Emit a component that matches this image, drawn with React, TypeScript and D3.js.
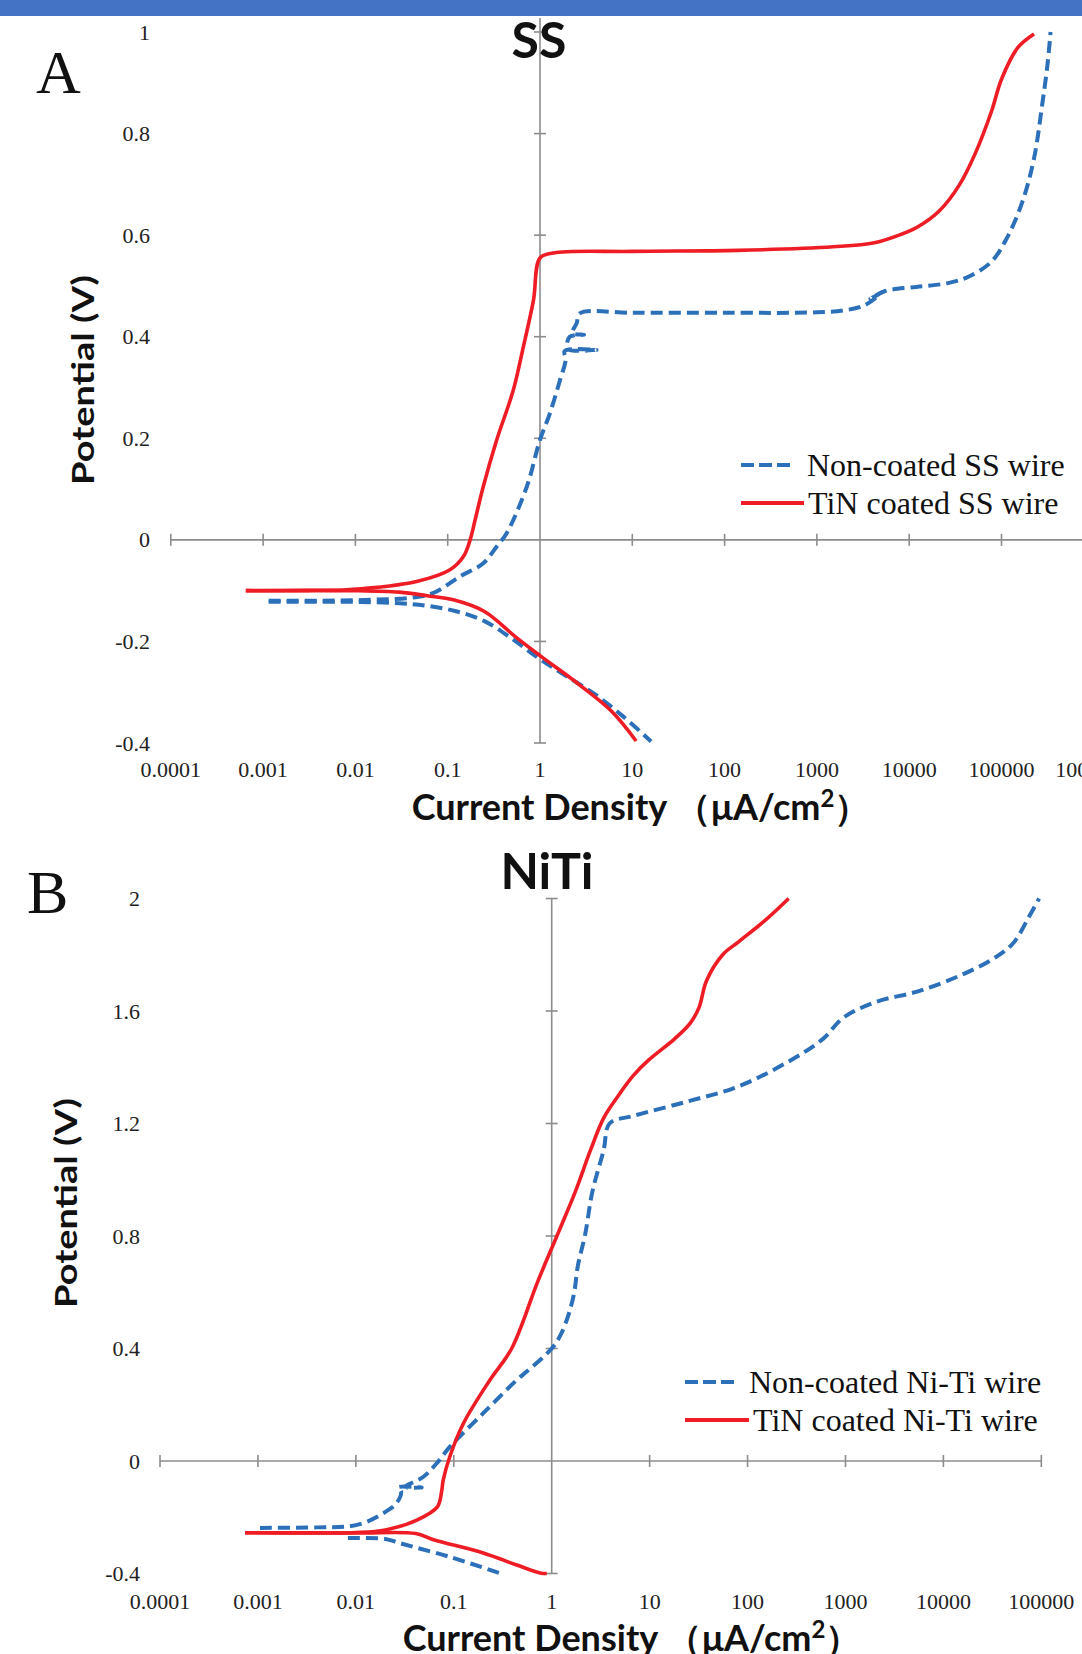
import React from "react";
import * as d3 from "d3";

// ---------- Data ----------
// Panel A (SS): [current density µA/cm², potential V]
const ssNonCoatedAnodic: [number, number][] = [
  [0.00115, -0.12], [0.004, -0.12], [0.015, -0.118], [0.04, -0.114], [0.069, -0.105],
  [0.136, -0.072], [0.243, -0.046], [0.34, -0.013], [0.435, 0.013], [0.72, 0.105],
  [1.0, 0.197], [1.28, 0.249], [1.65, 0.315], [1.9, 0.355], [1.85, 0.372], [4.1, 0.374],
  [2.0, 0.376], [2.1, 0.4], [3.0, 0.404], [2.25, 0.407], [2.5, 0.427], [2.7, 0.446],
  [10, 0.447], [100, 0.447], [1000, 0.448], [2000, 0.452], [3300, 0.462], [4900, 0.485],
  [3800, 0.475], [5500, 0.49], [12000, 0.498], [27000, 0.506], [45000, 0.519],
  [78000, 0.548], [115000, 0.595], [170000, 0.668], [225000, 0.751], [275000, 0.855],
  [316000, 0.938], [340000, 1.0],
];
const ssNonCoatedCathodic: [number, number][] = [
  [0.00115, -0.122], [0.01, -0.122], [0.03, -0.125], [0.06, -0.13], [0.12, -0.14],
  [0.25, -0.16], [0.5, -0.195], [1, -0.235], [2, -0.27], [4, -0.305], [8, -0.348], [16, -0.397],
];
const ssTinAnodic: [number, number][] = [
  [0.00065, -0.1], [0.003, -0.1], [0.0087, -0.098], [0.046, -0.082], [0.106, -0.059],
  [0.148, -0.033], [0.175, 0], [0.198, 0.039], [0.243, 0.105], [0.34, 0.197],
  [0.514, 0.295], [0.66, 0.38], [0.85, 0.472], [1.0, 0.555], [1.4, 0.565],
  [10, 0.568], [140, 0.57], [1500, 0.577], [4200, 0.585], [8300, 0.602], [12300, 0.616],
  [21000, 0.647], [35000, 0.699], [52000, 0.761], [78000, 0.844], [100000, 0.907],
  [150000, 0.969], [225000, 0.996],
];
const ssTinCathodic: [number, number][] = [
  [0.00065, -0.1], [0.01, -0.1], [0.03, -0.103], [0.06, -0.11], [0.115, -0.118],
  [0.25, -0.141], [0.56, -0.193], [1, -0.228], [2.7, -0.286], [6, -0.338], [11, -0.396],
];

// Panel B (NiTi)
const nitiNonCoatedAnodic: [number, number][] = [
  [0.00105, -0.238], [0.004, -0.236], [0.0087, -0.232], [0.013, -0.216], [0.019, -0.186],
  [0.026, -0.15], [0.029, -0.11], [0.027, -0.094], [0.047, -0.094], [0.032, -0.092],
  [0.049, -0.056], [0.067, -0.008], [0.091, 0.05], [0.2, 0.17], [0.44, 0.288],
  [0.56, 0.319], [1.0, 0.4], [1.24, 0.45], [1.5, 0.525], [1.7, 0.6], [1.85, 0.694],
  [2.2, 0.807], [2.6, 0.957], [3.4, 1.107], [3.9, 1.2], [6.8, 1.227], [23, 1.276],
  [81, 1.332], [280, 1.426], [590, 1.501], [950, 1.576], [2040, 1.632], [5500, 1.67],
  [14800, 1.726], [31000, 1.782], [51000, 1.839], [74000, 1.932], [95000, 2.0],
];
const nitiNonCoatedCathodic: [number, number][] = [
  [0.0083, -0.274], [0.02, -0.277], [0.028, -0.292], [0.091, -0.341], [0.3, -0.4],
];
const nitiTinAnodic: [number, number][] = [
  [0.00074, -0.255], [0.01, -0.254], [0.02, -0.245], [0.042, -0.21], [0.068, -0.163],
  [0.075, -0.11], [0.078, -0.068], [0.091, 0.015], [0.126, 0.135], [0.234, 0.288],
  [0.39, 0.4], [0.72, 0.638], [1.13, 0.8], [1.74, 0.957], [2.5, 1.107], [3.4, 1.22],
  [4.7, 1.295], [6.8, 1.37], [9.8, 1.426], [18, 1.501], [26, 1.557], [32, 1.613],
  [38, 1.707], [56, 1.801], [81, 1.846], [150, 1.921], [263, 2.0],
];
const nitiTinCathodic: [number, number][] = [
  [0.00074, -0.255], [0.01, -0.256], [0.041, -0.258], [0.062, -0.28], [0.2, -0.327],
  [0.44, -0.37], [0.76, -0.398], [0.89, -0.4],
];

const xTickValuesA = [0.0001, 0.001, 0.01, 0.1, 1, 10, 100, 1000, 10000, 100000, 1000000];
const xTickLabelsA = ["0.0001", "0.001", "0.01", "0.1", "1", "10", "100", "1000", "10000", "100000", "1000000"];
const yTickValuesA = [-0.4, -0.2, 0, 0.2, 0.4, 0.6, 0.8, 1];
const yTickLabelsA = ["-0.4", "-0.2", "0", "0.2", "0.4", "0.6", "0.8", "1"];
const xTickValuesB = [0.0001, 0.001, 0.01, 0.1, 1, 10, 100, 1000, 10000, 100000];
const xTickLabelsB = ["0.0001", "0.001", "0.01", "0.1", "1", "10", "100", "1000", "10000", "100000"];
const yTickValuesB = [-0.4, 0, 0.4, 0.8, 1.2, 1.6, 2];
const yTickLabelsB = ["-0.4", "0", "0.4", "0.8", "1.2", "1.6", "2"];

const legendA = ["Non-coated SS wire", "TiN coated SS wire"];
const legendB = ["Non-coated Ni-Ti wire", "TiN coated Ni-Ti wire"];

const BLUE = "#2b70b8";
const RED = "#ee1c24";
const AXIS = "#8c8c8c";
const SANS = "Lato, 'Open Sans', sans-serif";
const SERIF = "'Liberation Serif', 'DejaVu Serif', serif";

type PanelProps = {
  letter: string; letterX: number; letterY: number;
  title: string; titleX: number; titleY: number;
  xDomain: [number, number]; xRange: [number, number];
  yDomain: [number, number]; yRange: [number, number];
  xTicks: number[]; xLabels: string[]; yTicks: number[]; yLabels: string[];
  axisStart: number; axisEnd: number; yAxisTop: number;
  xLabelY: number; yLabelX: number;
  xTitleX: number; xTitleY: number; yTitleX: number; yTitleY: number;
  blue: [number, number][][]; red: [number, number][][];
  legend: string[]; legX: number; legY: number; legBlueLen: number; legRedLen: number;
};

function Panel(p: PanelProps) {
  const x = d3.scaleLog().domain(p.xDomain).range(p.xRange);
  const y = d3.scaleLinear().domain(p.yDomain).range(p.yRange);
  const line = d3.line<[number, number]>().x((d) => x(d[0])).y((d) => y(d[1])).curve(d3.curveCatmullRom.alpha(0.5));
  const x0 = x(1);
  const y0 = y(0);
  return (
    <g>
      <text x={p.letterX} y={p.letterY} fontFamily={SERIF} fontSize={62} fill="#111">{p.letter}</text>
      {/* x axis */}
      <line x1={p.axisStart} x2={p.axisEnd} y1={y0} y2={y0} stroke={AXIS} strokeWidth={1.6} />
      {p.xTicks.map((t, i) => (
        <g key={"xt" + i}>
          {t !== 1 && <line x1={x(t)} x2={x(t)} y1={y0 - 6} y2={y0 + 6} stroke={AXIS} strokeWidth={1.6} />}
          <text x={x(t)} y={p.xLabelY} textAnchor="middle" fontFamily={SERIF} fontSize={22} fill="#222">{p.xLabels[i]}</text>
        </g>
      ))}
      {/* y axis */}
      <line x1={x0} x2={x0} y1={p.yAxisTop} y2={y(p.yDomain[0])} stroke={AXIS} strokeWidth={1.6} />
      {p.yTicks.map((t, i) => (
        <g key={"yt" + i}>
          {t !== 0 && <line x1={x0 - 6} x2={x0 + 6} y1={y(t)} y2={y(t)} stroke={AXIS} strokeWidth={1.6} />}
          <text x={p.yLabelX} y={y(t)} textAnchor="end" dominantBaseline="central" fontFamily={SERIF} fontSize={22} fill="#222">{p.yLabels[i]}</text>
        </g>
      ))}
      <text x={p.titleX} y={p.titleY} textAnchor="middle" fontFamily={SANS} fontWeight={700} fontSize={50} fill="#111">{p.title}</text>
      <text x={p.xTitleX} y={p.xTitleY} textAnchor="middle" fontFamily={SANS} fontWeight={700} fontSize={36} fill="#111">
        Current Density （μA/cm<tspan dy={-13} fontSize={24}>2</tspan><tspan dy={13}>）</tspan>
      </text>
      <text transform={`translate(${p.yTitleX},${p.yTitleY}) rotate(-90) scale(1,0.82)`} textAnchor="middle" dominantBaseline="central" fontFamily={SANS} fontWeight={700} fontSize={38} fill="#111">Potential (V)</text>
      {/* curves */}
      {p.blue.map((s, i) => (
        <path key={"b" + i} d={line(s) || ""} fill="none" stroke={BLUE} strokeWidth={4} strokeDasharray="12,6" />
      ))}
      {p.red.map((s, i) => (
        <path key={"r" + i} d={line(s) || ""} fill="none" stroke={RED} strokeWidth={3.6} />
      ))}
      {/* legend */}
      <line x1={p.legX} x2={p.legX + p.legBlueLen} y1={p.legY} y2={p.legY} stroke={BLUE} strokeWidth={4} strokeDasharray="13,5" />
      <text x={p.legX + p.legBlueLen + 14} y={p.legY + 11} fontFamily={SERIF} fontSize={32} fill="#111">{p.legend[0]}</text>
      <line x1={p.legX} x2={p.legX + p.legRedLen} y1={p.legY + 38} y2={p.legY + 38} stroke={RED} strokeWidth={4} />
      <text x={p.legX + p.legRedLen + 4} y={p.legY + 49} fontFamily={SERIF} fontSize={32} fill="#111">{p.legend[1]}</text>
    </g>
  );
}

export default function App() {
  return (
    <svg width={1082} height={1654} style={{ position: "absolute", left: 0, top: 0, background: "#fff" }}>
      <rect x={0} y={0} width={1082} height={16} fill="#4472c4" />
      <Panel
        letter="A" letterX={36} letterY={93}
        title="SS" titleX={539} titleY={58}
        xDomain={[0.0001, 1]} xRange={[170.8, 540]}
        yDomain={[-0.4, 1]} yRange={[743, 32]}
        xTicks={xTickValuesA} xLabels={xTickLabelsA} yTicks={yTickValuesA} yLabels={yTickLabelsA}
        axisStart={170} axisEnd={1082} yAxisTop={18}
        xLabelY={777} yLabelX={150}
        xTitleX={641} xTitleY={820} yTitleX={82} yTitleY={380}
        blue={[ssNonCoatedAnodic, ssNonCoatedCathodic]} red={[ssTinAnodic, ssTinCathodic]}
        legend={legendA} legX={741} legY={465} legBlueLen={52} legRedLen={63}
      />
      <Panel
        letter="B" letterX={27} letterY={913}
        title="NiTi" titleX={547} titleY={889}
        xDomain={[0.0001, 1]} xRange={[160, 551.7]}
        yDomain={[-0.4, 2]} yRange={[1573.5, 898.5]}
        xTicks={xTickValuesB} xLabels={xTickLabelsB} yTicks={yTickValuesB} yLabels={yTickLabelsB}
        axisStart={160} axisEnd={1041.2} yAxisTop={898.5}
        xLabelY={1609} yLabelX={140}
        xTitleX={632} xTitleY={1651} yTitleX={65} yTitleY={1203}
        blue={[nitiNonCoatedAnodic, nitiNonCoatedCathodic]} red={[nitiTinAnodic, nitiTinCathodic]}
        legend={legendB} legX={685} legY={1382} legBlueLen={50} legRedLen={64}
      />
    </svg>
  );
}
